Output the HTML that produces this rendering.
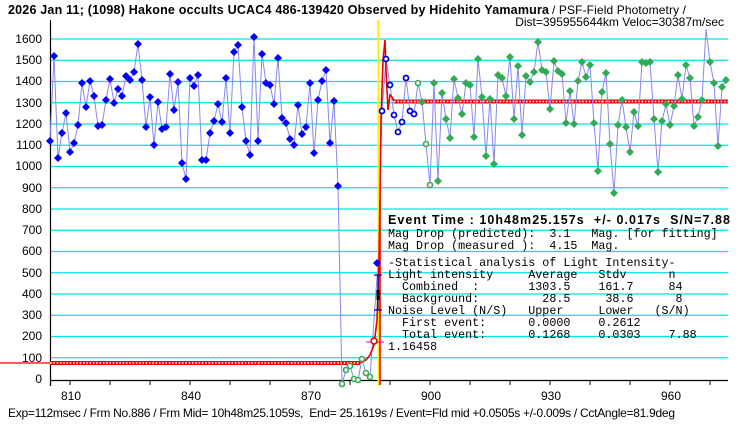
<!DOCTYPE html>
<html><head><meta charset="utf-8"><style>
body{margin:0;background:#fff;}
svg{display:block;}
.t{font-family:"Liberation Sans",sans-serif;font-size:12px;fill:#000;}
.m{font-family:"Liberation Mono",monospace;font-size:11.7px;fill:#000;}
</style></head><body>
<svg width="740" height="425" viewBox="0 0 740 425" xmlns="http://www.w3.org/2000/svg">
<defs>
<path id="d" d="M0,-4L4,0L0,4L-4,0Z" fill="#0000ff"/>
<path id="g" d="M0,-4L4,0L0,4L-4,0Z" fill="#33aa55"/>
<circle id="hg" r="2.5" fill="#fff" stroke="#33aa55" stroke-width="1.6"/>
<circle id="hb" r="2.5" fill="#fff" stroke="#0000dd" stroke-width="1.8"/>
</defs>
<rect width="740" height="425" fill="#fff"/>
<g stroke="#00e5e5" stroke-width="1.3">
<line x1="50" x2="728" y1="357.75" y2="357.75"/><line x1="50" x2="728" y1="336.5" y2="336.5"/><line x1="50" x2="728" y1="315.25" y2="315.25"/><line x1="50" x2="728" y1="294" y2="294"/><line x1="50" x2="728" y1="272.75" y2="272.75"/><line x1="50" x2="728" y1="251.5" y2="251.5"/><line x1="50" x2="728" y1="230.25" y2="230.25"/><line x1="50" x2="728" y1="209" y2="209"/><line x1="50" x2="728" y1="187.75" y2="187.75"/><line x1="50" x2="728" y1="166.5" y2="166.5"/><line x1="50" x2="728" y1="145.25" y2="145.25"/><line x1="50" x2="728" y1="124" y2="124"/><line x1="50" x2="728" y1="102.75" y2="102.75"/><line x1="50" x2="728" y1="81.5" y2="81.5"/><line x1="50" x2="728" y1="60.25" y2="60.25"/><line x1="50" x2="728" y1="39" y2="39"/>
</g>
<line x1="50.5" y1="20" x2="50.5" y2="386" stroke="#000" stroke-width="1.2"/>
<line x1="50" y1="380.5" x2="728" y2="380.5" stroke="#000" stroke-width="1.2"/>
<g stroke="#000">
<line x1="70" y1="380" x2="70" y2="385"/><line x1="110" y1="380" x2="110" y2="385"/><line x1="150" y1="380" x2="150" y2="385"/><line x1="190" y1="380" x2="190" y2="385"/><line x1="230" y1="380" x2="230" y2="385"/><line x1="270" y1="380" x2="270" y2="385"/><line x1="310" y1="380" x2="310" y2="385"/><line x1="350" y1="380" x2="350" y2="385"/><line x1="390" y1="380" x2="390" y2="385"/><line x1="430" y1="380" x2="430" y2="385"/><line x1="470" y1="380" x2="470" y2="385"/><line x1="510" y1="380" x2="510" y2="385"/><line x1="550" y1="380" x2="550" y2="385"/><line x1="590" y1="380" x2="590" y2="385"/><line x1="630" y1="380" x2="630" y2="385"/><line x1="670" y1="380" x2="670" y2="385"/><line x1="710" y1="380" x2="710" y2="385"/>
</g>
<g class="t" text-anchor="middle">
<text x="71" y="400">810</text><text x="191" y="400">840</text><text x="311" y="400">870</text><text x="431" y="400">900</text><text x="551" y="400">930</text><text x="671" y="400">960</text>
</g>
<g class="t" text-anchor="end">
<text x="42" y="43">1600</text><text x="42" y="64">1500</text><text x="42" y="85">1400</text><text x="42" y="107">1300</text><text x="42" y="128">1200</text><text x="42" y="149">1100</text><text x="42" y="170">1000</text><text x="42" y="192">900</text><text x="42" y="213">800</text><text x="42" y="234">700</text><text x="42" y="255">600</text><text x="42" y="277">500</text><text x="42" y="298">400</text><text x="42" y="319">300</text><text x="42" y="340">200</text><text x="42" y="362">100</text><text x="42" y="383">0</text>
</g>
<line x1="0" y1="363" x2="50" y2="363" stroke="#ee0000" stroke-width="1.2"/>
<line x1="50" y1="363" x2="360" y2="363" stroke="#ee0000" stroke-width="4"/>
<line x1="394" y1="101.5" x2="728" y2="101.5" stroke="#ee0000" stroke-width="4"/>
<line x1="50" y1="363" x2="360" y2="363" stroke="#fff" stroke-width="1.6" stroke-dasharray="1.6 1.7"/>
<line x1="394" y1="101.5" x2="728" y2="101.5" stroke="#fff" stroke-width="1.6" stroke-dasharray="1.6 1.7"/>
<polyline fill="none" stroke="#8888ee" stroke-width="1" points="50,141 54,56 58,158 62,133 66,113 70,152 74,143 78,125 82,83 86,107 90,81 94,96 98,126 102,125 106,100 110,79 114,103 118,89 122,96 126,76 130,80 134,72 138,44 142,80 146,127 150,97 154,145 158,102 162,129 166,127 170,74 174,110 178,82 182,163 186,179 190,78 194,86 198,75 202,160 206,160 210,133 214,121 218,104 222,122 226,78 230,133 234,52 238,45 242,107 246,141 250,155 254,37 258,141 262,54 266,83 270,85 274,104 278,58 282,118 286,123 290,139 294,145 298,105 302,134 306,127 310,83 314,153 318,100 322,81 326,70 330,143 334,101 338,186 342,384 346,370 350,366 354,379 358,380 362,359 366,373 370,377 374,320 378,263 382,111 386,59 390,85 394,115 398,132 402,122 406,78 410,111 414,114 418,83 422,102 426,144 430,185 434,83 438,181 442,93 446,119 450,138 454,79 458,98 462,114 466,83 470,85 474,137 478,59 482,97 486,156 490,99 494,164 498,75 502,78 506,96 510,57 514,119 518,66 522,135 526,76 530,82 534,72 538,42 542,70 546,72 550,109 554,61 558,71 562,74 566,123 570,91 574,124 578,81 582,62 586,77 590,65 594,123 598,171 602,92 606,73 610,144 614,193 618,125 622,100 626,127 630,152 634,112 638,126 642,62 646,63 650,62 654,119 658,172 662,121 666,104 670,125 674,106 678,75 682,99 686,65 690,78 694,126 698,117 702,100 706,29 710,62 714,83 718,146 722,87 726,80"/>
<line x1="378.5" y1="20" x2="378.5" y2="386" stroke="#ffee00" stroke-width="2"/>
<polyline fill="none" stroke="#ee0000" stroke-width="1.6" points="360,363 366,360 370,355 374,345 377,320 379,260 380,200 381,120 383,60 385,40 386,70 388,110 390,95 392,97 394,101"/>
<line x1="380" y1="385" x2="380" y2="200" stroke="#ee0000" stroke-width="1.6"/>
<g>
<use href="#d" x="50" y="141"/><use href="#d" x="54" y="56"/><use href="#d" x="58" y="158"/><use href="#d" x="62" y="133"/><use href="#d" x="66" y="113"/><use href="#d" x="70" y="152"/><use href="#d" x="74" y="143"/><use href="#d" x="78" y="125"/><use href="#d" x="82" y="83"/><use href="#d" x="86" y="107"/><use href="#d" x="90" y="81"/><use href="#d" x="94" y="96"/><use href="#d" x="98" y="126"/><use href="#d" x="102" y="125"/><use href="#d" x="106" y="100"/><use href="#d" x="110" y="79"/><use href="#d" x="114" y="103"/><use href="#d" x="118" y="89"/><use href="#d" x="122" y="96"/><use href="#d" x="126" y="76"/><use href="#d" x="130" y="80"/><use href="#d" x="134" y="72"/><use href="#d" x="138" y="44"/><use href="#d" x="142" y="80"/><use href="#d" x="146" y="127"/><use href="#d" x="150" y="97"/><use href="#d" x="154" y="145"/><use href="#d" x="158" y="102"/><use href="#d" x="162" y="129"/><use href="#d" x="166" y="127"/><use href="#d" x="170" y="74"/><use href="#d" x="174" y="110"/><use href="#d" x="178" y="82"/><use href="#d" x="182" y="163"/><use href="#d" x="186" y="179"/><use href="#d" x="190" y="78"/><use href="#d" x="194" y="86"/><use href="#d" x="198" y="75"/><use href="#d" x="202" y="160"/><use href="#d" x="206" y="160"/><use href="#d" x="210" y="133"/><use href="#d" x="214" y="121"/><use href="#d" x="218" y="104"/><use href="#d" x="222" y="122"/><use href="#d" x="226" y="78"/><use href="#d" x="230" y="133"/><use href="#d" x="234" y="52"/><use href="#d" x="238" y="45"/><use href="#d" x="242" y="107"/><use href="#d" x="246" y="141"/><use href="#d" x="250" y="155"/><use href="#d" x="254" y="37"/><use href="#d" x="258" y="141"/><use href="#d" x="262" y="54"/><use href="#d" x="266" y="83"/><use href="#d" x="270" y="85"/><use href="#d" x="274" y="104"/><use href="#d" x="278" y="58"/><use href="#d" x="282" y="118"/><use href="#d" x="286" y="123"/><use href="#d" x="290" y="139"/><use href="#d" x="294" y="145"/><use href="#d" x="298" y="105"/><use href="#d" x="302" y="134"/><use href="#d" x="306" y="127"/><use href="#d" x="310" y="83"/><use href="#d" x="314" y="153"/><use href="#d" x="318" y="100"/><use href="#d" x="322" y="81"/><use href="#d" x="326" y="70"/><use href="#d" x="330" y="143"/><use href="#d" x="334" y="101"/><use href="#d" x="338" y="186"/><use href="#d" x="377" y="263"/>
</g>
<g>
<use href="#hg" x="342" y="384"/><use href="#hg" x="346" y="370"/><use href="#hg" x="350" y="366"/><use href="#hg" x="354" y="379"/><use href="#hg" x="358" y="380"/><use href="#hg" x="362" y="359"/><use href="#hg" x="366" y="373"/><use href="#hg" x="370" y="377"/>
<use href="#hb" x="382" y="111"/><use href="#hb" x="386" y="59"/><use href="#hb" x="390" y="85"/><use href="#hb" x="394" y="115"/><use href="#hb" x="398" y="132"/><use href="#hb" x="402" y="122"/><use href="#hb" x="406" y="78"/><use href="#hb" x="410" y="111"/><use href="#hb" x="414" y="114"/>
<use href="#hg" x="418" y="83"/><use href="#hg" x="426" y="144"/><use href="#hg" x="430" y="185"/>
</g>
<g>
<use href="#g" x="422" y="102"/><use href="#g" x="434" y="83"/><use href="#g" x="438" y="181"/><use href="#g" x="442" y="93"/><use href="#g" x="446" y="119"/><use href="#g" x="450" y="138"/><use href="#g" x="454" y="79"/><use href="#g" x="458" y="98"/><use href="#g" x="462" y="114"/><use href="#g" x="466" y="83"/><use href="#g" x="470" y="85"/><use href="#g" x="474" y="137"/><use href="#g" x="478" y="59"/><use href="#g" x="482" y="97"/><use href="#g" x="486" y="156"/><use href="#g" x="490" y="99"/><use href="#g" x="494" y="164"/><use href="#g" x="498" y="75"/><use href="#g" x="502" y="78"/><use href="#g" x="506" y="96"/><use href="#g" x="510" y="57"/><use href="#g" x="514" y="119"/><use href="#g" x="518" y="66"/><use href="#g" x="522" y="135"/><use href="#g" x="526" y="76"/><use href="#g" x="530" y="82"/><use href="#g" x="534" y="72"/><use href="#g" x="538" y="42"/><use href="#g" x="542" y="70"/><use href="#g" x="546" y="72"/><use href="#g" x="550" y="109"/><use href="#g" x="554" y="61"/><use href="#g" x="558" y="71"/><use href="#g" x="562" y="74"/><use href="#g" x="566" y="123"/><use href="#g" x="570" y="91"/><use href="#g" x="574" y="124"/><use href="#g" x="578" y="81"/><use href="#g" x="582" y="62"/><use href="#g" x="586" y="77"/><use href="#g" x="590" y="65"/><use href="#g" x="594" y="123"/><use href="#g" x="598" y="171"/><use href="#g" x="602" y="92"/><use href="#g" x="606" y="73"/><use href="#g" x="610" y="144"/><use href="#g" x="614" y="193"/><use href="#g" x="618" y="125"/><use href="#g" x="622" y="100"/><use href="#g" x="626" y="127"/><use href="#g" x="630" y="152"/><use href="#g" x="634" y="112"/><use href="#g" x="638" y="126"/><use href="#g" x="642" y="62"/><use href="#g" x="646" y="63"/><use href="#g" x="650" y="62"/><use href="#g" x="654" y="119"/><use href="#g" x="658" y="172"/><use href="#g" x="662" y="121"/><use href="#g" x="666" y="104"/><use href="#g" x="670" y="125"/><use href="#g" x="674" y="106"/><use href="#g" x="678" y="75"/><use href="#g" x="682" y="99"/><use href="#g" x="686" y="65"/><use href="#g" x="690" y="78"/><use href="#g" x="694" y="126"/><use href="#g" x="698" y="117"/><use href="#g" x="702" y="100"/><use href="#g" x="710" y="62"/><use href="#g" x="714" y="83"/><use href="#g" x="718" y="146"/><use href="#g" x="722" y="87"/><use href="#g" x="726" y="80"/>
</g>
<g stroke="#0000aa" stroke-width="1.2">
<line x1="378" y1="275" x2="378" y2="310"/><line x1="374" y1="275" x2="382" y2="275"/><line x1="374" y1="310" x2="382" y2="310"/>
</g>
<line x1="378" y1="290" x2="378" y2="300" stroke="#000" stroke-width="3"/>
<g stroke="#ff00cc" stroke-width="1"><line x1="366" y1="342" x2="372" y2="342"/><line x1="376" y1="342" x2="384" y2="342"/><line x1="380" y1="338" x2="380" y2="346"/></g>
<circle cx="374" cy="341" r="3" fill="#fff" stroke="#ee0000" stroke-width="1.6"/>
<text x="388" y="224" style="font-family:'Liberation Sans',sans-serif;font-weight:bold;font-size:12.5px" textLength="342">Event Time : 10h48m25.157s&#160; +/- 0.017s&#160; S/N=7.88</text>
<g class="m">
<text x="388" y="237">Mag&#160;Drop&#160;(predicted):&#160;&#160;3.1&#160;&#160;&#160;Mag.&#160;[for&#160;fitting]</text>
<text x="388" y="249">Mag&#160;Drop&#160;(measured&#160;):&#160;&#160;4.15&#160;&#160;Mag.</text>
<text x="388" y="266">-Statistical&#160;analysis&#160;of&#160;Light&#160;Intensity-</text>
<text x="388" y="278">Light&#160;intensity&#160;&#160;&#160;&#160;&#160;Average&#160;&#160;&#160;Stdv&#160;&#160;&#160;&#160;&#160;&#160;n</text>
<text x="388" y="290">&#160;&#160;Combined&#160;&#160;:&#160;&#160;&#160;&#160;&#160;&#160;&#160;1303.5&#160;&#160;&#160;&#160;161.7&#160;&#160;&#160;&#160;&#160;84</text>
<text x="388" y="302">&#160;&#160;Background:&#160;&#160;&#160;&#160;&#160;&#160;&#160;&#160;&#160;28.5&#160;&#160;&#160;&#160;&#160;38.6&#160;&#160;&#160;&#160;&#160;&#160;8</text>
<text x="388" y="314">Noise&#160;Level&#160;(N/S)&#160;&#160;&#160;Upper&#160;&#160;&#160;&#160;&#160;Lower&#160;&#160;&#160;(S/N)</text>
<text x="388" y="326">&#160;&#160;First&#160;event:&#160;&#160;&#160;&#160;&#160;&#160;0.0000&#160;&#160;&#160;&#160;0.2612</text>
<text x="388" y="338">&#160;&#160;Total&#160;event:&#160;&#160;&#160;&#160;&#160;&#160;0.1268&#160;&#160;&#160;&#160;0.0303&#160;&#160;&#160;&#160;7.88</text>
<text x="388" y="350">1.16458</text>
</g>
<text x="8" y="14" style="font-family:'Liberation Sans',sans-serif;font-size:12.5px;font-weight:bold" textLength="541">2026 Jan 11; (1098) Hakone occults UCAC4 486-139420 Observed by Hidehito Yamamura</text>
<text x="552" y="14" class="t" textLength="134">/ PSF-Field Photometry /</text>
<text x="724" y="26" class="t" text-anchor="end">Dist=395955644km Veloc=30387m/sec</text>
<text x="8" y="417" class="t" textLength="667">Exp=112msec / Frm No.886 / Frm Mid= 10h48m25.1059s,&#160; End= 25.1619s / Event=Fld mid +0.0505s +/-0.009s / CctAngle=81.9deg</text>
</svg>
</body></html>
